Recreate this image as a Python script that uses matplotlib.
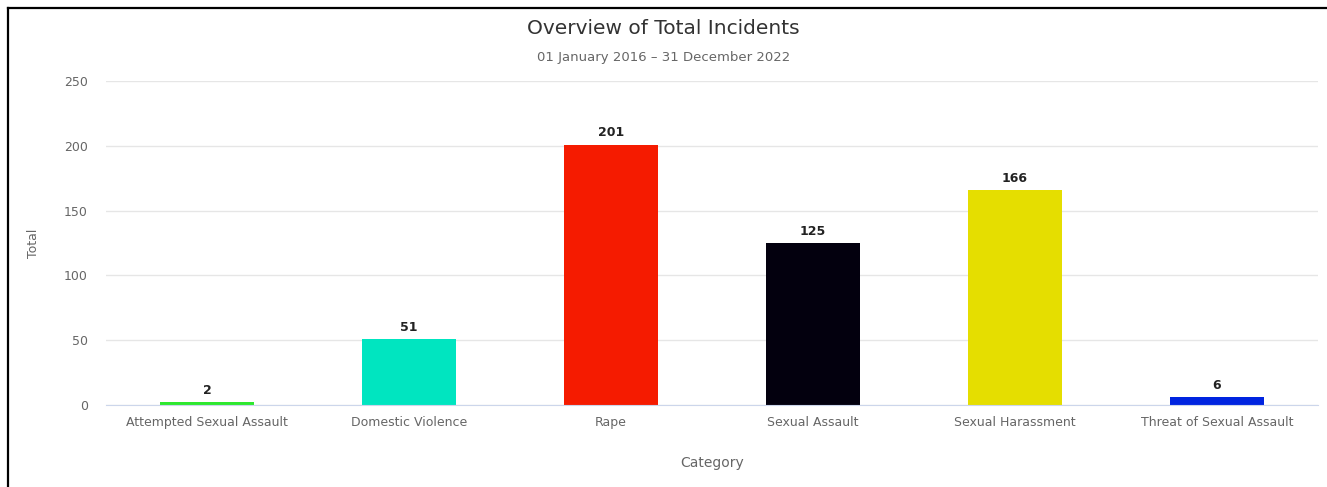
import matplotlib
matplotlib.use('Agg')
import matplotlib.pyplot as plt
from matplotlib.lines import Line2D

categories = ['Attempted Sexual Assault', 'Domestic Violence', 'Rape',
              'Sexual Assault', 'Sexual Harassment', 'Threat of Sexual Assault']
totals = [2, 51, 201, 125, 166, 6]
bar_colors = ['#2ee82e', '#00e5c0', '#f51b00', '#03000e', '#e5de00', '#0024e0']

W, H = 1327, 487
fig = plt.figure(figsize=(W / 100, H / 100), dpi=100)
ax = fig.add_axes([106 / W, 1 - 405 / H, (1318 - 106) / W, (405 - 81) / H])

x = list(range(len(categories)))
ax.bar(x, totals, width=0.47, color=bar_colors, zorder=3)
for xi, v in zip(x, totals):
    ax.text(xi, v + 4, str(v), ha='center', va='bottom', fontsize=9,
            fontweight='bold', color='#222222', zorder=4)

ax.set_xlim(-0.5, len(categories) - 0.5)
ax.set_ylim(0, 250)
ax.set_yticks([0, 50, 100, 150, 200, 250])
ax.set_xticks(x)
ax.set_xticklabels(categories)
ax.tick_params(axis='both', length=0, labelsize=9, labelcolor='#666666')
ax.tick_params(axis='y', pad=13)
ax.tick_params(axis='x', pad=8)
ax.grid(axis='y', color='#e6e6e6', linewidth=1, zorder=0)
for side in ['top', 'right', 'left']:
    ax.spines[side].set_visible(False)
ax.spines['bottom'].set_color('#ccd6eb')
ax.spines['bottom'].set_zorder(5)

ax.set_ylabel('Total', fontsize=9, color='#666666', labelpad=17)
ax.set_xlabel('Category', fontsize=10, color='#666666', labelpad=19)

fig.text(0.5, 1 - 29 / H, 'Overview of Total Incidents', ha='center', va='center',
         fontsize=14.5, color='#333333')
fig.text(0.5, 1 - 58 / H, '01 January 2016 \u2013 31 December 2022', ha='center',
         va='center', fontsize=9.5, color='#666666')

# frame around the chart (top and left edges)
fig.add_artist(Line2D([8 / W, 1], [1 - 7.5 / H, 1 - 7.5 / H], color='black',
                      linewidth=1.6, transform=fig.transFigure))
fig.add_artist(Line2D([8 / W, 8 / W], [0, 1 - 7.5 / H], color='black',
                      linewidth=1.6, transform=fig.transFigure))

fig.savefig('out.png', dpi=100)
